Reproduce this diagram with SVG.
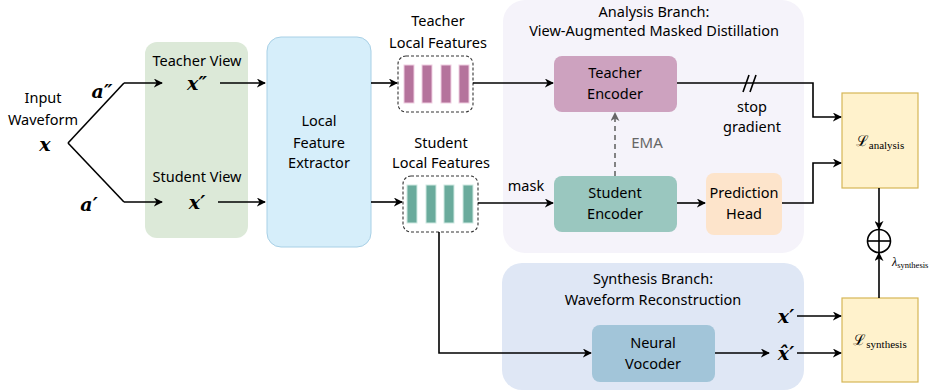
<svg xmlns="http://www.w3.org/2000/svg" width="935" height="391" viewBox="0 0 935 391">
<defs>
<marker id="ah" viewBox="0 0 10 10" refX="9" refY="5" markerWidth="9" markerHeight="9" markerUnits="userSpaceOnUse" orient="auto">
<path d="M0,0 L10,5 L0,10 L3,5 z" fill="#000"/>
</marker>
<marker id="ahg" viewBox="0 0 10 10" refX="9" refY="5" markerWidth="9" markerHeight="9" markerUnits="userSpaceOnUse" orient="auto">
<path d="M0,0 L10,5 L0,10 L3,5 z" fill="#666"/>
</marker>
<style>
.t{font-family:"Noto Sans","Open Sans",sans-serif;font-size:14.5px;fill:#000;text-anchor:middle}
.m{font-family:"DejaVu Serif","Liberation Serif",serif;font-weight:bold;font-style:italic;font-size:19px;fill:#000;text-anchor:middle}
.L{font-family:"DejaVu Serif","Liberation Serif",serif;font-size:15px;fill:#000;text-anchor:middle}
.ln{fill:none;stroke:#000;stroke-width:1.6}
.ar{fill:none;stroke:#000;stroke-width:1.6;marker-end:url(#ah)}
.bar1{fill:#b5739c;stroke:#f0cfe2;stroke-width:1}
.bar2{fill:#6aab9c;stroke:#cfe9e2;stroke-width:1}
.dash{fill:#fff;stroke:#333;stroke-width:1.1;stroke-dasharray:3,2}
.enc{stroke:none}
.loss{fill:#fff2cc;stroke:#d6b656;stroke-width:1.2}
</style>
</defs>

<g id="analysis-branch">
<rect x="503" y="0" width="301" height="253" rx="22" fill="#f5f3fa"/>
<text class="t" x="654" y="17">Analysis Branch:</text>
<text class="t" x="654" y="36">View-Augmented Masked Distillation</text>
</g>
<g id="synthesis-branch">
<rect x="502" y="263" width="302" height="127" rx="20" fill="#dfe7f5"/>
<text class="t" x="653" y="284">Synthesis Branch:</text>
<text class="t" x="653" y="305">Waveform Reconstruction</text>
</g>

<g id="input">
<text class="t" x="43" y="103">Input</text>
<text class="t" x="43" y="125">Waveform</text>
<text class="m" x="45" y="151">x</text>
</g>

<g id="views">
<rect x="145" y="42" width="103" height="196" rx="12" fill="#dce9d8"/>
<text class="t" x="197" y="66">Teacher View</text>
<text class="m" x="197" y="90">x″</text>
<text class="t" x="197" y="182">Student View</text>
<text class="m" x="197" y="209">x′</text>
</g>

<g id="local-feature-extractor">
<rect x="267" y="37" width="104" height="210" rx="14" fill="#d6eefa" stroke="#a8d0e6" stroke-width="1"/>
<text class="t" x="319" y="126">Local</text>
<text class="t" x="319" y="148">Feature</text>
<text class="t" x="319" y="168">Extractor</text>
</g>

<g id="teacher-features">
<text class="t" x="438" y="26">Teacher</text>
<text class="t" x="438" y="48">Local Features</text>
<rect class="dash" x="398" y="56" width="75" height="56" rx="8"/>
<rect class="bar1" x="404" y="65" width="10" height="38"/>
<rect class="bar1" x="422" y="65" width="10" height="38"/>
<rect class="bar1" x="441" y="65" width="10" height="38"/>
<rect class="bar1" x="459" y="65" width="10" height="38"/>
</g>

<g id="student-features">
<text class="t" x="441" y="148">Student</text>
<text class="t" x="441" y="168">Local Features</text>
<rect class="dash" x="403" y="176" width="75" height="56" rx="8"/>
<rect class="bar2" x="407" y="185" width="10" height="38"/>
<rect class="bar2" x="426" y="185" width="10" height="38"/>
<rect class="bar2" x="444" y="185" width="10" height="38"/>
<rect class="bar2" x="463" y="185" width="10" height="38"/>
</g>

<g id="teacher-encoder">
<rect class="enc" x="554" y="56" width="123" height="56" rx="8" fill="#cda2bf"/>
<text class="t" x="615" y="78">Teacher</text>
<text class="t" x="615" y="99">Encoder</text>
</g>
<g id="student-encoder">
<rect class="enc" x="554" y="176" width="123" height="56" rx="8" fill="#9ac7bf"/>
<text class="t" x="615" y="198">Student</text>
<text class="t" x="615" y="219">Encoder</text>
</g>
<g id="prediction-head">
<rect class="enc" x="706" y="173" width="76" height="62" rx="8" fill="#fde4cb"/>
<text class="t" x="744" y="198">Prediction</text>
<text class="t" x="744" y="219">Head</text>
</g>
<g id="neural-vocoder">
<rect class="enc" x="592" y="325" width="123" height="57" rx="8" fill="#a2c5d9"/>
<text class="t" x="653" y="348">Neural</text>
<text class="t" x="653" y="369">Vocoder</text>
</g>

<g id="loss-analysis">
<rect class="loss" x="842" y="93" width="76" height="95"/>
<text class="L" x="880" y="146">ℒ<tspan font-family="Liberation Serif" font-size="11" dy="3">analysis</tspan></text>
</g>
<g id="loss-synthesis">
<rect class="loss" x="842" y="298" width="76" height="84"/>
<text class="L" x="880" y="345">ℒ<tspan font-family="Liberation Serif" font-size="11" dy="3">synthesis</tspan></text>
</g>
<g id="sum">
<circle cx="879" cy="241" r="11.5" fill="#fff" stroke="#000" stroke-width="1.6"/>
<line class="ln" x1="867.5" y1="241" x2="890.5" y2="241"/>
<line class="ln" x1="879" y1="229.5" x2="879" y2="252.5"/>
</g>

<g id="connectors">
<polyline class="ln" points="68,143 124,83"/>
<polyline class="ar" points="124,83 162,83"/>
<polyline class="ln" points="68,143 124,202"/>
<polyline class="ar" points="124,202 162,202"/>
<text class="m" x="102" y="98">a″</text>
<text class="m" x="89" y="211">a′</text>
<line class="ar" x1="220" y1="83" x2="265" y2="83"/>
<line class="ar" x1="218" y1="202" x2="265" y2="202"/>
<line class="ar" x1="371" y1="83" x2="397" y2="83"/>
<line class="ar" x1="371" y1="202" x2="402" y2="202"/>
<line class="ar" x1="473" y1="83" x2="553" y2="83"/>
<line class="ar" x1="478" y1="203" x2="553" y2="203"/>
<text class="t" x="526" y="191">mask</text>
<line class="ar" x1="677" y1="203" x2="705" y2="203"/>
<polyline class="ar" points="677,83 813,83 813,117 841,117"/>
<line class="ln" x1="743" y1="92" x2="749" y2="75"/>
<line class="ln" x1="750" y1="92" x2="756" y2="75"/>
<text class="t" x="752" y="112">stop</text>
<text class="t" x="752" y="132">gradient</text>
<polyline class="ar" points="782,203 813,203 813,163 841,163"/>
<line x1="615" y1="176" x2="615" y2="113" stroke="#666" stroke-width="1.6" stroke-dasharray="5,4" marker-end="url(#ahg)"/>
<text class="t" x="647" y="148" style="fill:#666;font-size:15px">EMA</text>
<line class="ar" x1="879" y1="188" x2="879" y2="229"/>
<line class="ar" x1="879" y1="298" x2="879" y2="253"/>
<text x="892" y="266" font-family="Liberation Serif,serif" font-style="italic" font-size="12" fill="#000">λ<tspan font-style="normal" font-size="8.5" dy="2">synthesis</tspan></text>
<polyline class="ar" points="439,232 439,353 591,353"/>
<line class="ar" x1="715" y1="353" x2="769" y2="353"/>
<text class="m" x="786" y="360">x̂′</text>
<line class="ar" x1="797" y1="353" x2="841" y2="353"/>
<text class="m" x="786" y="323">x′</text>
<line class="ar" x1="797" y1="316" x2="841" y2="316"/>
</g>
</svg>
